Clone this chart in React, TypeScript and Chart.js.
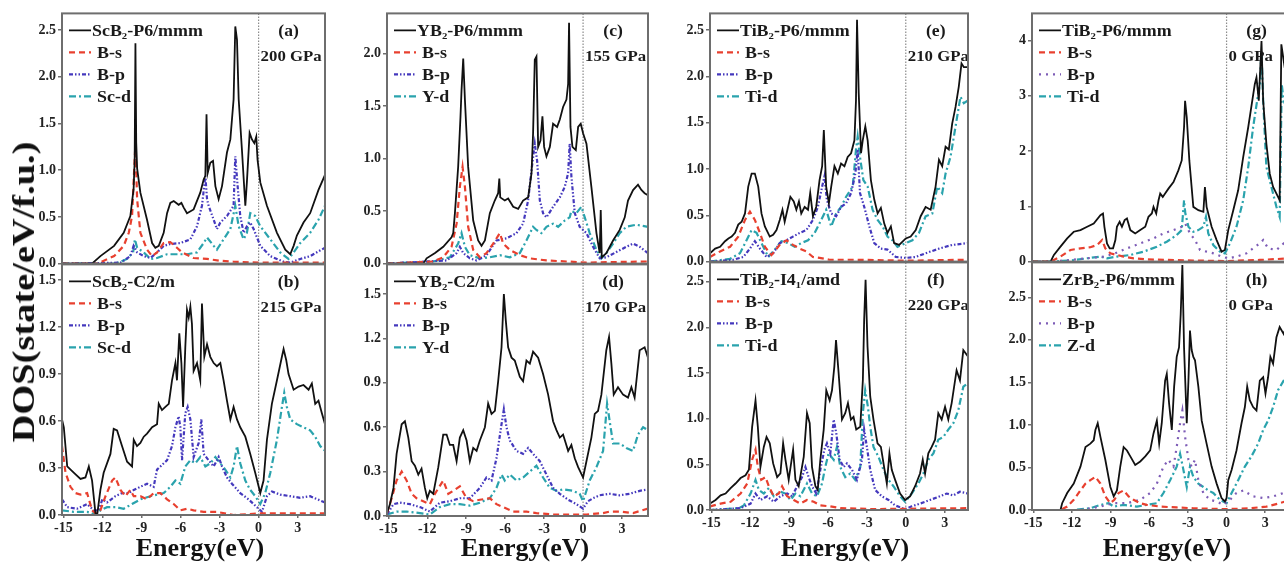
import React, { useEffect, useRef } from 'react';
import { Chart, registerables } from 'chart.js';
Chart.register(...registerables);

const FONT = '"Liberation Serif", "DejaVu Serif", "Times New Roman", serif';

type Pt = [number, number];

// ---------- x ticks / y ticks ----------
const xTicks = [-15, -12, -9, -6, -3, 0, 3];
const yTicks05 = [0, 0.5, 1, 1.5, 2, 2.5];
const yTicks03 = [0, 0.3, 0.6, 0.9, 1.2, 1.5];
const yTicksC = [0, 0.5, 1, 1.5, 2];
const yTicksG = [0, 1, 2, 3, 4];

// ---------- (a) ScB2-P6/mmm 200 GPa ----------
const aTot: Pt[] = [[-15.1,0],[-12.8,0],[-12.15,0.08],[-11.1,0.19],[-10.36,0.33],[-9.85,0.51],[-9.6,0.8],[-9.52,1.1],[-9.46,2.36],[-9.4,1.3],[-9.33,1.02],[-9.08,0.76],[-8.57,0.47],[-8.18,0.22],[-7.93,0.17],[-7.67,0.19],[-7.29,0.33],[-7.03,0.54],[-6.78,0.65],[-6.52,0.67],[-6.14,0.63],[-5.93,0.65],[-5.75,0.6],[-5.5,0.54],[-4.99,0.58],[-4.48,0.76],[-4.22,0.9],[-4.09,0.94],[-4.0,1.6],[-3.91,0.97],[-3.71,1.08],[-3.5,1.1],[-3.32,0.83],[-3.07,0.69],[-2.81,0.83],[-2.43,1.19],[-2.17,1.33],[-1.92,1.76],[-1.79,2.54],[-1.66,2.4],[-1.53,1.76],[-1.28,1.22],[-1.02,0.62],[-0.9,0.87],[-0.69,1.4],[-0.51,1.33],[-0.33,1.29],[-0.18,1.36],[-0.08,1.11],[0.13,0.87],[0.64,0.62],[1.41,0.33],[2.05,0.15],[2.43,0.1],[2.69,0.19],[2.94,0.3],[3.45,0.44],[3.96,0.54],[4.6,0.79],[5.1,0.95]];
const aBs: Pt[] = [[-15.1,0],[-12.4,0],[-11.1,0.08],[-10.36,0.19],[-9.97,0.33],[-9.72,0.51],[-9.6,0.87],[-9.46,1.29],[-9.33,0.69],[-9.08,0.33],[-8.57,0.15],[-8.18,0.08],[-7.8,0.12],[-7.29,0.22],[-6.78,0.23],[-6.27,0.17],[-5.88,0.12],[-4.99,0.06],[-3.96,0.05],[-2.94,0.03],[-1.92,0.02],[0,0.01],[5.1,0.01]];
const aBp: Pt[] = [[-15.1,0],[-10.6,0.01],[-9.85,0.08],[-9.6,0.19],[-9.33,0.12],[-8.82,0.08],[-8.31,0.06],[-7.8,0.12],[-7.29,0.19],[-6.78,0.21],[-6.0,0.22],[-5.24,0.26],[-4.73,0.4],[-4.35,0.62],[-4.09,0.94],[-3.96,0.69],[-3.84,0.62],[-3.45,0.47],[-3.2,0.37],[-2.94,0.44],[-2.43,0.51],[-1.92,0.62],[-1.79,1.15],[-1.61,0.83],[-1.41,0.51],[-1.15,0.33],[-0.9,0.4],[-0.64,0.44],[-0.38,0.37],[0.13,0.19],[0.9,0.08],[1.92,0.02],[2.43,0.01],[3.2,0.05],[3.96,0.08],[5.1,0.17]];
const aD: Pt[] = [[-15.1,0],[-11,0],[-10.1,0.05],[-9.64,0.12],[-9.5,0.26],[-9.33,0.17],[-8.82,0.12],[-8.31,0.05],[-7.8,0.06],[-7.03,0.1],[-5.5,0.1],[-4.73,0.12],[-4.22,0.22],[-3.96,0.28],[-3.45,0.19],[-3.2,0.15],[-2.69,0.26],[-2.17,0.37],[-1.79,0.62],[-1.53,0.4],[-1.15,0.26],[-0.9,0.33],[-0.64,0.54],[-0.26,0.51],[0.13,0.4],[0.9,0.26],[1.66,0.12],[2.3,0.05],[2.69,0.12],[3.2,0.22],[3.96,0.33],[4.6,0.47],[5.1,0.62]];

// ---------- (b) ScB2-C2/m 215 GPa ----------
const bTot: Pt[] = [[-15.1,0.61],[-14.96,0.56],[-14.7,0.31],[-14.2,0.27],[-13.68,0.23],[-13.3,0.24],[-13.04,0.31],[-12.79,0.22],[-12.53,0.01],[-12.4,0],[-12.15,0.16],[-11.9,0.27],[-11.38,0.39],[-11.13,0.55],[-10.87,0.54],[-10.49,0.44],[-10.1,0.34],[-9.72,0.31],[-9.59,0.48],[-9.34,0.44],[-9.08,0.46],[-8.82,0.5],[-8.57,0.52],[-8.18,0.56],[-7.8,0.58],[-7.67,0.71],[-7.42,0.67],[-7.16,0.69],[-6.9,0.71],[-6.65,0.86],[-6.39,0.97],[-6.27,0.86],[-6.09,1.16],[-5.93,0.97],[-5.8,0.69],[-5.63,1.07],[-5.5,1.31],[-5.37,1.26],[-5.24,1.33],[-5.12,1.22],[-4.99,0.92],[-4.73,0.97],[-4.48,0.86],[-4.35,1.35],[-4.17,1.01],[-3.96,1.09],[-3.71,1.01],[-3.45,0.97],[-3.2,0.95],[-2.94,0.97],[-2.69,0.86],[-2.43,0.73],[-2.17,0.61],[-1.92,0.69],[-1.66,0.61],[-1.41,0.56],[-1.02,0.5],[-0.64,0.39],[-0.26,0.27],[0.13,0.14],[0.38,0.22],[0.64,0.48],[1.02,0.71],[1.41,0.86],[1.79,1.01],[1.92,1.06],[2.12,0.99],[2.3,0.9],[2.69,0.8],[3.07,0.82],[3.45,0.83],[3.84,0.8],[4.09,0.84],[4.35,0.71],[4.6,0.73],[4.86,0.65],[5.1,0.58]];
const bBs: Pt[] = [[-15.1,0.44],[-14.83,0.27],[-14.45,0.18],[-14.07,0.14],[-13.68,0.13],[-13.17,0.14],[-12.79,0.03],[-12.53,0.01],[-12.15,0.03],[-11.76,0.12],[-11.25,0.22],[-11.0,0.24],[-10.61,0.16],[-10.23,0.12],[-9.85,0.16],[-9.59,0.12],[-9.08,0.12],[-8.57,0.1],[-8.06,0.14],[-7.54,0.14],[-7.03,0.1],[-6.52,0.07],[-6.01,0.03],[-5.5,0.04],[-4.99,0.03],[-4.22,0.02],[-3.2,0.02],[-1.92,0.0],[0.13,0.01],[5.1,0.01]];
const bBp: Pt[] = [[-15.1,0.1],[-14.7,0.05],[-13.94,0.04],[-13.17,0.07],[-12.66,0.03],[-12.28,0.03],[-12.0,0.1],[-11.64,0.08],[-11.0,0.12],[-10.49,0.14],[-9.97,0.14],[-9.59,0.16],[-9.08,0.18],[-8.57,0.2],[-8.06,0.18],[-7.8,0.29],[-7.54,0.31],[-7.03,0.35],[-6.65,0.44],[-6.39,0.56],[-6.14,0.63],[-6.01,0.56],[-5.88,0.35],[-5.63,0.65],[-5.45,0.69],[-5.24,0.61],[-4.99,0.37],[-4.6,0.46],[-4.4,0.61],[-4.22,0.39],[-3.84,0.35],[-3.45,0.31],[-3.07,0.37],[-2.81,0.31],[-2.43,0.24],[-2.05,0.2],[-1.41,0.14],[-0.77,0.1],[-0.13,0.05],[0.26,0.02],[0.64,0.12],[1.02,0.15],[1.66,0.13],[2.43,0.12],[3.2,0.11],[3.96,0.12],[5.1,0.08]];
const bD: Pt[] = [[-15.1,0.03],[-14.2,0.02],[-13.17,0.02],[-12.4,0],[-12.15,0.03],[-11.64,0.05],[-11.0,0.05],[-10.36,0.04],[-9.72,0.07],[-9.08,0.1],[-8.31,0.12],[-7.8,0.13],[-7.29,0.14],[-6.78,0.18],[-6.39,0.22],[-6.01,0.2],[-5.63,0.31],[-5.24,0.35],[-4.86,0.33],[-4.48,0.37],[-4.09,0.31],[-3.71,0.33],[-3.32,0.37],[-2.94,0.33],[-2.56,0.29],[-2.17,0.24],[-1.92,0.31],[-1.66,0.44],[-1.41,0.33],[-1.02,0.22],[-0.64,0.16],[-0.26,0.12],[0.13,0.07],[0.51,0.14],[0.9,0.27],[1.41,0.48],[1.79,0.69],[1.97,0.78],[2.17,0.69],[2.43,0.61],[2.94,0.58],[3.45,0.56],[3.96,0.54],[4.35,0.5],[4.73,0.44],[5.1,0.41]];

// ---------- (c) YB2-P6/mmm 155 GPa ----------
const cTot: Pt[] = [[-15.1,0],[-12.3,0],[-12.05,0.05],[-11.4,0.1],[-10.77,0.16],[-10.13,0.25],[-10.0,0.29],[-9.87,0.48],[-9.62,0.92],[-9.44,1.4],[-9.36,1.65],[-9.23,1.95],[-9.1,1.56],[-8.85,0.92],[-8.46,0.41],[-8.08,0.22],[-7.82,0.17],[-7.56,0.22],[-7.18,0.48],[-6.8,0.6],[-6.54,0.67],[-6.45,0.81],[-6.38,0.63],[-6.03,0.6],[-5.77,0.62],[-5.38,0.54],[-5.0,0.52],[-4.62,0.6],[-4.23,0.63],[-3.97,0.86],[-3.85,1.24],[-3.72,1.94],[-3.59,1.97],[-3.46,1.11],[-3.28,1.17],[-3.13,1.4],[-3.0,1.11],[-2.82,1.02],[-2.56,1.11],[-2.31,1.33],[-2.0,1.3],[-1.79,1.37],[-1.54,1.49],[-1.28,1.56],[-1.15,1.71],[-1.08,2.29],[-0.97,1.3],[-0.82,1.11],[-0.56,1.08],[-0.38,1.3],[-0.18,1.33],[0,1.24],[0.26,1.14],[0.64,0.73],[1.03,0.29],[1.28,0.1],[1.36,0.51],[1.44,0.06],[1.79,0.1],[2.31,0.22],[2.82,0.32],[3.21,0.44],[3.46,0.6],[3.85,0.7],[4.23,0.75],[4.49,0.7],[4.74,0.67],[5.0,0.65]];
const cBs: Pt[] = [[-15.1,0],[-11.54,0.02],[-10.77,0.06],[-10.13,0.16],[-9.74,0.38],[-9.49,0.73],[-9.28,0.92],[-9.1,0.73],[-8.85,0.35],[-8.46,0.13],[-7.95,0.06],[-7.44,0.1],[-6.92,0.19],[-6.41,0.29],[-6.15,0.19],[-5.64,0.13],[-4.87,0.08],[-4.1,0.05],[-2.82,0.03],[-1.28,0.02],[0.26,0.01],[5.0,0.02]];
const cBp: Pt[] = [[-15.1,0],[-10.5,0.03],[-9.74,0.1],[-9.49,0.16],[-9.23,0.1],[-8.72,0.05],[-8.2,0.03],[-7.44,0.08],[-6.67,0.22],[-5.9,0.24],[-5.13,0.29],[-4.62,0.38],[-4.23,0.6],[-3.97,0.89],[-3.72,1.14],[-3.54,0.98],[-3.33,0.6],[-3.08,0.48],[-2.82,0.44],[-2.31,0.54],[-1.79,0.63],[-1.41,0.73],[-1.15,0.86],[-1.03,1.14],[-0.9,0.83],[-0.64,0.48],[-0.26,0.35],[0.26,0.29],[0.77,0.16],[1.28,0.05],[1.79,0.06],[2.56,0.11],[3.33,0.16],[3.85,0.19],[4.36,0.16],[5.0,0.1]];
const cD: Pt[] = [[-15.1,0],[-11.54,0.02],[-10.26,0.06],[-9.62,0.19],[-9.36,0.29],[-9.1,0.16],[-8.72,0.08],[-7.95,0.05],[-7.18,0.06],[-6.41,0.08],[-5.64,0.06],[-4.87,0.1],[-4.36,0.22],[-3.85,0.35],[-3.59,0.32],[-3.21,0.29],[-2.82,0.35],[-2.31,0.38],[-1.92,0.35],[-1.41,0.41],[-1.03,0.44],[-0.9,0.5],[-0.51,0.48],[-0.13,0.54],[0.13,0.44],[0.51,0.29],[1.03,0.13],[1.41,0.05],[1.79,0.1],[2.31,0.19],[2.82,0.29],[3.33,0.35],[4.1,0.37],[5.0,0.35]];

// ---------- (d) YB2-C2/m 170 GPa ----------
const dTot: Pt[] = [[-15.1,0.02],[-14.87,0.08],[-14.6,0.19],[-14.36,0.42],[-13.97,0.62],[-13.72,0.64],[-13.46,0.53],[-13.2,0.37],[-12.95,0.34],[-12.69,0.28],[-12.44,0.32],[-12.18,0.19],[-12.0,0.12],[-11.8,0.17],[-11.54,0.15],[-11.15,0.33],[-10.77,0.55],[-10.51,0.55],[-10.26,0.48],[-10.0,0.48],[-9.74,0.37],[-9.49,0.53],[-9.23,0.58],[-8.97,0.51],[-8.72,0.37],[-8.46,0.46],[-8.2,0.44],[-7.95,0.51],[-7.56,0.6],[-7.31,0.76],[-7.05,0.69],[-6.79,0.71],[-6.54,0.91],[-6.28,1.14],[-6.1,1.5],[-5.95,1.32],[-5.77,1.14],[-5.51,1.07],[-5.26,1.05],[-4.87,0.94],[-4.62,0.91],[-4.36,1.05],[-4.1,1.03],[-3.85,1.11],[-3.46,1.07],[-3.08,0.96],[-2.69,0.82],[-2.31,0.64],[-2.05,0.58],[-1.79,0.53],[-1.54,0.55],[-1.15,0.44],[-0.9,0.48],[-0.64,0.39],[-0.38,0.33],[0,0.26],[0.26,0.37],[0.64,0.53],[0.9,0.69],[1.15,0.71],[1.41,0.82],[1.79,1.12],[2.0,1.21],[2.18,1.03],[2.36,0.82],[2.69,0.87],[3.08,0.82],[3.46,0.8],[3.72,0.87],[3.97,0.8],[4.36,1.12],[4.74,1.14],[5.0,1.07]];
const dBs: Pt[] = [[-15.1,0.02],[-14.74,0.12],[-14.36,0.24],[-13.97,0.3],[-13.59,0.24],[-13.2,0.15],[-12.82,0.12],[-12.31,0.1],[-11.8,0.08],[-11.41,0.15],[-10.77,0.24],[-10.38,0.15],[-10.0,0.17],[-9.49,0.2],[-8.97,0.12],[-8.46,0.1],[-7.95,0.11],[-7.18,0.12],[-6.67,0.08],[-6.15,0.06],[-5.38,0.03],[-4.36,0.03],[-3.59,0.02],[-2.31,0.01],[0.26,0.01],[1.54,0.02],[2.05,0.03],[2.82,0.03],[3.85,0.02],[5.0,0.05]];
const dBp: Pt[] = [[-15.1,0.01],[-14.6,0.08],[-14.1,0.09],[-13.33,0.08],[-12.56,0.06],[-11.8,0.03],[-11.03,0.09],[-10.26,0.1],[-9.49,0.12],[-8.72,0.12],[-7.95,0.19],[-7.44,0.26],[-7.05,0.24],[-6.67,0.39],[-6.28,0.62],[-6.1,0.72],[-5.9,0.6],[-5.64,0.51],[-5.13,0.44],[-4.62,0.42],[-4.23,0.46],[-3.85,0.42],[-3.33,0.37],[-2.82,0.28],[-2.31,0.19],[-1.79,0.15],[-1.15,0.11],[-0.51,0.08],[0,0.05],[0.38,0.1],[0.77,0.12],[1.28,0.14],[2.05,0.15],[2.82,0.14],[3.59,0.15],[4.36,0.17],[5.0,0.18]];
const dD: Pt[] = [[-15.1,0.01],[-14.36,0.03],[-13.59,0.03],[-12.56,0.02],[-11.8,0.01],[-11.03,0.06],[-10.26,0.08],[-9.49,0.08],[-8.72,0.07],[-7.95,0.09],[-7.18,0.12],[-6.67,0.19],[-6.28,0.28],[-6.03,0.24],[-5.64,0.28],[-5.13,0.24],[-4.62,0.26],[-4.1,0.3],[-3.59,0.34],[-3.08,0.26],[-2.56,0.19],[-2.05,0.17],[-1.54,0.18],[-0.77,0.17],[-0.26,0.15],[0,0.1],[0.51,0.24],[1.03,0.33],[1.54,0.44],[1.85,0.76],[2.05,0.64],[2.31,0.49],[2.82,0.49],[3.33,0.46],[3.85,0.44],[4.23,0.55],[4.62,0.6],[5.0,0.58]];

// ---------- (e) TiB2-P6/mmm 210 GPa ----------
const eTot: Pt[] = [[-15.1,0.09],[-14.7,0.14],[-14.32,0.16],[-13.94,0.22],[-13.68,0.25],[-13.43,0.27],[-13.17,0.31],[-12.92,0.4],[-12.66,0.43],[-12.4,0.52],[-12.15,0.81],[-11.89,0.95],[-11.64,0.95],[-11.38,0.81],[-11.13,0.52],[-10.87,0.38],[-10.49,0.27],[-10.23,0.29],[-9.97,0.34],[-9.72,0.45],[-9.51,0.56],[-9.34,0.43],[-9.08,0.59],[-8.9,0.7],[-8.64,0.65],[-8.44,0.56],[-8.24,0.65],[-8.06,0.52],[-7.8,0.59],[-7.54,0.56],[-7.37,0.74],[-7.16,0.49],[-6.91,0.59],[-6.65,0.88],[-6.45,1.03],[-6.32,1.42],[-6.14,0.81],[-5.93,0.63],[-5.75,0.81],[-5.5,1.03],[-5.24,0.95],[-4.99,1.06],[-4.73,1.03],[-4.48,1.13],[-4.22,1.17],[-3.96,1.31],[-3.84,1.74],[-3.76,2.61],[-3.63,1.82],[-3.45,1.17],[-3.32,1.31],[-3.12,1.46],[-2.94,1.31],[-2.69,0.88],[-2.43,0.67],[-2.17,0.52],[-1.92,0.58],[-1.66,0.41],[-1.41,0.31],[-1.15,0.38],[-0.9,0.2],[-0.51,0.18],[0,0.25],[0.38,0.27],[0.77,0.34],[1.15,0.49],[1.53,0.59],[1.92,0.56],[2.3,0.81],[2.56,1.1],[2.81,1.03],[3.07,1.24],[3.32,1.21],[3.58,1.49],[3.84,1.67],[4.09,1.89],[4.3,2.14],[4.48,2.1],[4.8,2.1]];
const eBs: Pt[] = [[-15.1,0.05],[-14.32,0.11],[-13.55,0.16],[-12.92,0.27],[-12.4,0.45],[-12.02,0.54],[-11.64,0.45],[-11.25,0.31],[-10.87,0.16],[-10.36,0.07],[-9.72,0.18],[-9.21,0.23],[-8.7,0.18],[-8.18,0.14],[-7.67,0.11],[-7.16,0.05],[-6.65,0.04],[-5.88,0.02],[-3.84,0.02],[0,0.01],[4.8,0.02]];
const eBp: Pt[] = [[-15.1,0],[-13.3,0.02],[-12.53,0.05],[-12.02,0.14],[-11.64,0.22],[-11.25,0.14],[-10.74,0.05],[-10.23,0.09],[-9.72,0.2],[-9.21,0.23],[-8.7,0.27],[-8.18,0.31],[-7.67,0.34],[-7.16,0.45],[-6.78,0.59],[-6.45,0.81],[-6.27,0.92],[-6.09,0.67],[-5.75,0.52],[-5.37,0.49],[-4.99,0.59],[-4.6,0.63],[-4.22,0.74],[-3.89,0.95],[-3.71,1.21],[-3.53,0.74],[-3.2,0.59],[-2.81,0.38],[-2.43,0.2],[-1.92,0.14],[-1.41,0.13],[-0.77,0.05],[0,0.04],[0.77,0.05],[1.53,0.09],[2.56,0.14],[3.58,0.18],[4.8,0.2]];
const eD: Pt[] = [[-15.1,0],[-13.55,0.03],[-12.79,0.09],[-12.28,0.23],[-11.89,0.34],[-11.51,0.31],[-11.13,0.2],[-10.61,0.05],[-10.1,0.13],[-9.59,0.22],[-9.08,0.2],[-8.57,0.16],[-8.06,0.2],[-7.54,0.23],[-7.03,0.31],[-6.52,0.45],[-6.14,0.56],[-5.75,0.38],[-5.37,0.52],[-4.99,0.59],[-4.6,0.7],[-4.09,0.81],[-3.84,1.21],[-3.71,1.35],[-3.53,1.13],[-3.27,0.88],[-2.94,0.81],[-2.56,0.56],[-2.17,0.45],[-1.79,0.38],[-1.41,0.27],[-1.02,0.23],[-0.64,0.16],[0,0.2],[0.51,0.23],[1.02,0.31],[1.53,0.49],[2.05,0.52],[2.43,0.81],[2.81,0.74],[3.07,0.95],[3.45,1.13],[3.84,1.46],[4.22,1.78],[4.48,1.71],[4.8,1.74]];

// ---------- (f) TiB2-I41/amd 220 GPa ----------
const fTot: Pt[] = [[-15.1,0.07],[-14.67,0.11],[-14.28,0.16],[-13.9,0.18],[-13.51,0.24],[-13.13,0.29],[-12.74,0.35],[-12.36,0.38],[-12.1,0.44],[-11.85,0.91],[-11.59,1.2],[-11.41,0.91],[-11.21,0.47],[-10.95,0.69],[-10.74,0.8],[-10.49,0.73],[-10.23,0.51],[-9.92,0.36],[-9.67,0.4],[-9.46,0.73],[-9.28,0.55],[-9.03,0.33],[-8.69,0.66],[-8.51,0.33],[-8.26,0.26],[-7.87,0.58],[-7.62,1.06],[-7.41,0.95],[-7.23,0.47],[-6.97,0.26],[-6.79,0.22],[-6.59,0.55],[-6.33,0.88],[-6.13,1.31],[-5.87,1.2],[-5.69,1.31],[-5.51,1.57],[-5.38,1.86],[-5.18,1.5],[-4.92,0.99],[-4.67,1.06],[-4.46,1.17],[-4.23,0.99],[-4.03,1.02],[-3.82,0.88],[-3.51,0.91],[-3.31,1.42],[-3.21,2.08],[-3.1,2.52],[-2.95,1.79],[-2.74,1.24],[-2.49,0.99],[-2.18,0.73],[-1.92,0.69],[-1.67,0.47],[-1.46,0.29],[-1.26,0.62],[-1.08,0.44],[-0.82,0.33],[-0.44,0.18],[-0.05,0.11],[0.33,0.15],[0.72,0.26],[1.1,0.4],[1.31,0.55],[1.49,0.4],[1.74,0.62],[2.0,0.69],[2.26,0.77],[2.51,1.06],[2.77,0.99],[3.03,1.13],[3.28,0.99],[3.54,1.17],[3.92,1.53],[4.18,1.42],[4.44,1.75],[4.8,1.68]];
const fBs: Pt[] = [[-15.1,0.04],[-14.28,0.07],[-13.51,0.09],[-12.74,0.18],[-12.23,0.29],[-11.85,0.55],[-11.59,0.66],[-11.41,0.47],[-11.15,0.33],[-10.82,0.36],[-10.56,0.26],[-10.18,0.15],[-9.79,0.18],[-9.54,0.26],[-9.15,0.15],[-8.64,0.11],[-8.13,0.07],[-7.62,0.11],[-7.1,0.09],[-6.59,0.05],[-5.82,0.04],[-5.05,0.02],[-2.49,0.01],[4.8,0.02]];
const fBp: Pt[] = [[-15.1,0],[-12.74,0.02],[-11.97,0.07],[-11.59,0.18],[-11.21,0.11],[-10.69,0.15],[-10.18,0.09],[-9.67,0.15],[-9.15,0.18],[-8.77,0.15],[-8.38,0.26],[-8.0,0.36],[-7.74,0.47],[-7.49,0.36],[-7.23,0.26],[-6.9,0.18],[-6.59,0.44],[-6.28,0.66],[-6.08,0.73],[-5.82,0.62],[-5.56,0.99],[-5.36,0.84],[-5.1,0.55],[-4.79,0.47],[-4.54,0.51],[-4.15,0.44],[-3.77,0.33],[-3.38,0.55],[-3.21,0.88],[-3.0,0.69],[-2.74,0.44],[-2.36,0.22],[-1.85,0.15],[-1.33,0.11],[-0.82,0.05],[-0.05,0.01],[0.46,0.04],[1.1,0.07],[1.87,0.11],[2.64,0.15],[3.15,0.18],[3.67,0.16],[4.18,0.2],[4.8,0.18]];
const fD: Pt[] = [[-15.1,0],[-12.87,0.02],[-12.49,0.05],[-11.97,0.18],[-11.59,0.33],[-11.33,0.22],[-10.95,0.18],[-10.56,0.24],[-10.18,0.15],[-9.67,0.2],[-9.28,0.18],[-8.9,0.11],[-8.51,0.18],[-8.13,0.15],[-7.62,0.29],[-7.23,0.18],[-6.85,0.15],[-6.46,0.29],[-6.21,0.47],[-5.95,0.62],[-5.56,0.55],[-5.31,0.69],[-5.05,0.47],[-4.67,0.36],[-4.28,0.4],[-3.9,0.33],[-3.51,0.47],[-3.31,1.06],[-3.13,1.31],[-2.92,1.13],[-2.74,0.91],[-2.49,0.69],[-2.1,0.58],[-1.72,0.44],[-1.33,0.33],[-0.95,0.26],[-0.44,0.15],[-0.05,0.09],[0.46,0.18],[0.97,0.29],[1.36,0.4],[1.74,0.55],[2.13,0.62],[2.51,0.77],[2.9,0.8],[3.28,0.88],[3.67,0.95],[4.05,1.09],[4.44,1.35],[4.8,1.39]];

// ---------- (g) TiB2-P6/mmm 0 GPa ----------
const gTot: Pt[] = [[-15.1,0],[-13.66,0],[-13.4,0.12],[-12.89,0.27],[-12.37,0.42],[-11.86,0.54],[-11.34,0.57],[-10.82,0.63],[-10.31,0.69],[-9.79,0.84],[-9.59,0.87],[-9.48,0.63],[-9.28,0.33],[-9.07,0.24],[-8.81,0.24],[-8.63,0.39],[-8.51,0.63],[-8.3,0.72],[-8.12,0.63],[-7.91,0.75],[-7.73,0.78],[-7.47,0.57],[-7.09,0.51],[-6.7,0.57],[-6.31,0.63],[-6.06,0.81],[-5.8,0.87],[-5.67,0.99],[-5.46,0.87],[-5.28,1.11],[-5.15,1.23],[-4.95,1.17],[-4.77,1.23],[-4.51,1.32],[-4.12,1.44],[-3.74,1.65],[-3.48,1.83],[-3.3,2.43],[-3.22,2.91],[-3.09,2.61],[-2.89,1.83],[-2.58,0.99],[-2.19,0.93],[-1.8,0.9],[-1.68,1.35],[-1.55,0.99],[-1.16,0.63],[-0.77,0.39],[-0.39,0.18],[-0.13,0.21],[0.13,0.57],[0.52,0.93],[0.9,1.29],[1.29,1.89],[1.68,2.43],[2.19,3.21],[2.32,3.33],[2.5,2.91],[2.71,3.99],[2.84,2.91],[3.09,2.13],[3.35,1.59],[3.61,1.35],[3.87,1.23],[4.12,1.11],[4.25,3.93],[4.51,3.51],[5.0,3.2]];
const gBs: Pt[] = [[-15.1,0],[-13.66,0],[-12.89,0.09],[-12.11,0.21],[-11.34,0.24],[-10.57,0.26],[-10.05,0.3],[-9.66,0.39],[-9.41,0.24],[-9.02,0.15],[-8.51,0.12],[-7.99,0.09],[-7.22,0.06],[-6.19,0.04],[-4.64,0.03],[-2.58,0.02],[0,0.01],[2.58,0.03],[5.0,0.06]];
const gBp: Pt[] = [[-15.1,0],[-13.66,0],[-12.11,0.03],[-10.82,0.06],[-9.54,0.09],[-8.76,0.14],[-7.73,0.24],[-6.7,0.33],[-5.67,0.42],[-4.9,0.51],[-4.12,0.57],[-3.48,0.63],[-3.22,0.69],[-2.84,0.51],[-2.45,0.39],[-2.06,0.21],[-1.55,0.18],[-1.03,0.15],[-0.39,0.09],[0.13,0.06],[0.77,0.09],[1.55,0.15],[2.06,0.24],[2.58,0.33],[2.84,0.39],[3.22,0.24],[3.87,0.21],[4.43,0.33],[5.0,0.3]];
const gD: Pt[] = [[-15.1,0],[-13.66,0],[-12.11,0.02],[-10.82,0.06],[-9.79,0.09],[-9.28,0.06],[-8.51,0.09],[-7.47,0.12],[-6.44,0.18],[-5.41,0.27],[-4.64,0.36],[-3.87,0.48],[-3.48,0.57],[-3.3,1.11],[-3.2,0.87],[-2.96,0.63],[-2.58,0.54],[-2.19,0.57],[-1.8,0.63],[-1.6,0.81],[-1.42,0.51],[-1.03,0.3],[-0.52,0.18],[-0.13,0.15],[0.26,0.33],[0.77,0.63],[1.29,1.11],[1.68,1.71],[2.06,2.43],[2.37,2.91],[2.58,3.21],[2.71,3.81],[2.84,2.91],[3.09,1.71],[3.48,1.35],[3.87,0.99],[4.12,0.81],[4.28,3.21],[4.43,2.91],[5.0,2.6]];

// ---------- (h) ZrB2-P6/mmm 0 GPa ----------
const hTot: Pt[] = [[-15.1,0],[-12.89,0],[-12.76,0.08],[-12.37,0.2],[-11.86,0.31],[-11.34,0.51],[-10.95,0.74],[-10.57,0.78],[-10.31,0.82],[-10.18,0.94],[-10.0,1.02],[-9.79,0.86],[-9.41,0.59],[-9.02,0.27],[-8.76,0.16],[-8.51,0.23],[-8.25,0.51],[-7.99,0.74],[-7.73,0.7],[-7.47,0.63],[-7.09,0.53],[-6.7,0.57],[-6.31,0.63],[-5.93,0.7],[-5.67,0.9],[-5.41,1.05],[-5.23,0.78],[-5.03,1.02],[-4.77,1.52],[-4.64,1.6],[-4.46,1.25],[-4.25,0.94],[-4.07,1.45],[-3.87,1.8],[-3.69,1.91],[-3.56,2.3],[-3.43,2.88],[-3.3,1.91],[-3.09,1.02],[-2.96,1.52],[-2.84,2.11],[-2.71,1.88],[-2.58,1.8],[-2.45,1.76],[-2.19,1.45],[-1.93,1.05],[-1.55,0.78],[-1.16,0.51],[-0.77,0.31],[-0.39,0.14],[-0.13,0.1],[0,0.14],[0.13,0.35],[0.39,0.47],[0.77,0.7],[1.16,1.02],[1.42,1.21],[1.6,1.45],[1.8,1.29],[2.06,1.21],[2.32,1.17],[2.58,1.52],[2.84,1.56],[3.02,1.37],[3.22,1.56],[3.4,1.8],[3.61,1.72],[3.87,2.03],[4.12,2.15],[4.43,2.07],[5.0,2.3]];
const hBs: Pt[] = [[-15.1,0],[-12.89,0],[-12.37,0.04],[-11.86,0.12],[-11.34,0.23],[-10.95,0.31],[-10.57,0.35],[-10.18,0.39],[-9.79,0.31],[-9.41,0.16],[-9.02,0.08],[-8.71,0.12],[-8.38,0.2],[-7.99,0.23],[-7.6,0.16],[-7.22,0.12],[-6.7,0.08],[-6.19,0.06],[-5.15,0.04],[-3.87,0.03],[-2.58,0.02],[0,0.01],[1.8,0.02],[3.09,0.04],[4.12,0.08],[5.0,0.12]];
const hBp: Pt[] = [[-15.1,0],[-11.34,0],[-9.79,0.04],[-8.76,0.08],[-7.73,0.08],[-6.7,0.12],[-5.93,0.2],[-5.41,0.31],[-4.9,0.51],[-4.51,0.59],[-4.12,0.51],[-3.87,0.74],[-3.61,1.02],[-3.43,1.17],[-3.22,0.86],[-2.96,0.59],[-2.71,0.51],[-2.45,0.59],[-2.19,0.35],[-1.8,0.2],[-1.29,0.12],[-0.77,0.1],[-0.26,0.06],[0.26,0.12],[0.77,0.2],[1.29,0.23],[2.06,0.16],[2.84,0.14],[3.61,0.16],[4.43,0.2],[5.0,0.2]];
const hD: Pt[] = [[-15.1,0],[-11.86,0],[-10.57,0.02],[-9.79,0.06],[-9.15,0.08],[-8.76,0.04],[-7.99,0.06],[-6.96,0.04],[-6.19,0.06],[-5.41,0.08],[-4.9,0.2],[-4.38,0.35],[-3.87,0.51],[-3.61,0.66],[-3.4,0.51],[-3.09,0.27],[-2.84,0.51],[-2.58,0.39],[-2.19,0.31],[-1.8,0.27],[-1.42,0.23],[-1.03,0.2],[-0.52,0.12],[0,0.08],[0.39,0.2],[0.9,0.35],[1.42,0.51],[1.93,0.63],[2.45,0.78],[2.84,0.94],[3.22,1.05],[3.61,1.21],[4.0,1.41],[4.43,1.52],[5.0,1.65]];

// ---------- panel configuration ----------
interface Panel {
  id: string; name: string; dName: string; tag: string; pressure: string;
  tot: Pt[]; bs: Pt[]; bp: Pt[]; d: Pt[];
  left: number; right: number; top: number; bottom: number;
  xMin: number; xMax: number; yMax: number; yTicks: number[]; yDec: number;
  showX: boolean; sparseBp: boolean;
}

const panels: Panel[] = [
  { id: 'a', name: 'ScB₂-P6/mmm', dName: 'Sc-d', tag: '(a)', pressure: '200 GPa', tot: aTot, bs: aBs, bp: aBp, d: aD, left: 62, right: 325, top: 13, bottom: 264, xMin: -15.1, xMax: 5.1, yMax: 2.68, yTicks: yTicks05, yDec: 1, showX: false, sparseBp: false },
  { id: 'b', name: 'ScB₂-C2/m', dName: 'Sc-d', tag: '(b)', pressure: '215 GPa', tot: bTot, bs: bBs, bp: bBp, d: bD, left: 62, right: 325, top: 264, bottom: 515, xMin: -15.1, xMax: 5.1, yMax: 1.6, yTicks: yTicks03, yDec: 1, showX: true, sparseBp: false },
  { id: 'c', name: 'YB₂-P6/mmm', dName: 'Y-d', tag: '(c)', pressure: '155 GPa', tot: cTot, bs: cBs, bp: cBp, d: cD, left: 387, right: 648, top: 13, bottom: 263.5, xMin: -15.1, xMax: 5.0, yMax: 2.38, yTicks: yTicksC, yDec: 1, showX: false, sparseBp: false },
  { id: 'd', name: 'YB₂-C2/m', dName: 'Y-d', tag: '(d)', pressure: '170 GPa', tot: dTot, bs: dBs, bp: dBp, d: dD, left: 387, right: 648, top: 263.5, bottom: 515, xMin: -15.1, xMax: 5.0, yMax: 1.7, yTicks: yTicks03, yDec: 1, showX: true, sparseBp: false },
  { id: 'e', name: 'TiB₂-P6/mmm', dName: 'Ti-d', tag: '(e)', pressure: '210 GPa', tot: eTot, bs: eBs, bp: eBp, d: eD, left: 710, right: 968, top: 13, bottom: 262, xMin: -15.1, xMax: 4.8, yMax: 2.68, yTicks: yTicks05, yDec: 1, showX: false, sparseBp: false },
  { id: 'f', name: 'TiB₂-I4₁/amd', dName: 'Ti-d', tag: '(f)', pressure: '220 GPa', tot: fTot, bs: fBs, bp: fBp, d: fD, left: 710, right: 968, top: 262, bottom: 510, xMin: -15.1, xMax: 4.8, yMax: 2.71, yTicks: yTicks05, yDec: 1, showX: true, sparseBp: false },
  { id: 'g', name: 'TiB₂-P6/mmm', dName: 'Ti-d', tag: '(g)', pressure: '0 GPa', tot: gTot, bs: gBs, bp: gBp, d: gD, left: 1032, right: 1291, top: 13, bottom: 262, xMin: -15.1, xMax: 5.0, yMax: 4.49, yTicks: yTicksG, yDec: 0, showX: false, sparseBp: true },
  { id: 'h', name: 'ZrB₂-P6/mmm', dName: 'Z-d', tag: '(h)', pressure: '0 GPa', tot: hTot, bs: hBs, bp: hBp, d: hD, left: 1032, right: 1291, top: 262, bottom: 510, xMin: -15.1, xMax: 5.0, yMax: 2.91, yTicks: yTicks05, yDec: 1, showX: true, sparseBp: true },
];

const energyLabelX = [200, 525, 845, 1167];

const YW = 44;
const PR = 6;
const PT = 10;

function toXY(pts: Pt[]) {
  return pts.map(([x, y]) => ({ x, y }));
}

function makeDeco(p: Panel) {
  return {
    id: 'deco' + p.id,
    beforeDatasetsDraw(chart: any) {
      const { ctx, chartArea: a } = chart;
      const x0 = chart.scales.x.getPixelForValue(0);
      ctx.save();
      ctx.strokeStyle = '#8c8c8c';
      ctx.lineWidth = 1.2;
      ctx.setLineDash([1.5, 1.5]);
      ctx.beginPath();
      ctx.moveTo(x0, a.top);
      ctx.lineTo(x0, a.bottom);
      ctx.stroke();
      ctx.restore();
    },
    afterDatasetsDraw(chart: any) {
      const { ctx, chartArea: a } = chart;
      const x0 = chart.scales.x.getPixelForValue(0);
      ctx.save();
      ctx.beginPath();
      ctx.rect(a.left, a.top, a.right - a.left, a.bottom - a.top);
      ctx.clip();
      // legend
      chart.data.datasets.forEach((ds: any, i: number) => {
        const y = a.top + 17 + i * 22;
        ctx.save();
        ctx.beginPath();
        ctx.setLineDash(ds.borderDash || []);
        ctx.strokeStyle = ds.borderColor;
        ctx.lineWidth = ds.borderWidth;
        ctx.moveTo(a.left + 7, y);
        ctx.lineTo(a.left + 29, y);
        ctx.stroke();
        ctx.restore();
        ctx.save();
        ctx.fillStyle = '#1a1a1a';
        ctx.font = `bold 16px ${FONT}`;
        ctx.textBaseline = 'middle';
        ctx.textAlign = 'left';
        ctx.translate(a.left + (i === 0 ? 30 : 35), y + 1);
        ctx.scale(1.12, 1);
        ctx.fillText(ds.label, 0, 0);
        ctx.restore();
      });
      // tag and pressure
      ctx.fillStyle = '#1a1a1a';
      ctx.textBaseline = 'middle';
      ctx.save();
      ctx.font = `bold 16px ${FONT}`;
      ctx.textAlign = 'center';
      ctx.translate(x0 + 30, a.top + 18);
      ctx.scale(1.1, 1);
      ctx.fillText(p.tag, 0, 0);
      ctx.restore();
      ctx.save();
      ctx.font = `bold 15px ${FONT}`;
      ctx.textAlign = 'left';
      ctx.translate(x0 + 2, a.top + 44);
      ctx.scale(1.12, 1);
      ctx.fillText(p.pressure, 0, 0);
      ctx.restore();
      ctx.restore();
      // frame
      ctx.save();
      ctx.strokeStyle = '#6e6e6e';
      ctx.lineWidth = 2;
      ctx.strokeRect(a.left, a.top, a.right - a.left, a.bottom - a.top);
      ctx.restore();
    },
  };
}

function PanelChart({ p }: { p: Panel }) {
  const ref = useRef<HTMLCanvasElement>(null);
  const PB = p.showX ? 0 : 10;
  const XH = p.showX ? 30 : 0;
  const w = YW + (p.right - p.left) + PR;
  const h = Math.round(PT + (p.bottom - p.top) + PB + XH);
  useEffect(() => {
    const tickFont = { family: FONT, size: 14, weight: 'bold' as const };
    const bpColor = p.sparseBp ? '#7d5cb6' : '#4438bd';
    const chart = new Chart(ref.current as HTMLCanvasElement, {
      type: 'line',
      data: {
        datasets: [
          { label: p.name, data: toXY(p.tot), borderColor: '#111111', borderWidth: 1.8, borderDash: [] },
          { label: 'B-s', data: toXY(p.bs), borderColor: '#e8402f', borderWidth: 2.2, borderDash: [6, 4] },
          { label: 'B-p', data: toXY(p.bp), borderColor: bpColor, borderWidth: 2.2, borderDash: p.sparseBp ? [2, 5] : [4, 2, 1.5, 2, 1.5, 2] },
          { label: p.dName, data: toXY(p.d), borderColor: '#2aa3ad', borderWidth: 2.2, borderDash: [7, 3, 2, 3] },
        ] as any,
      },
      options: {
        animation: false,
        responsive: false,
        events: [],
        layout: { padding: { top: PT, right: PR, bottom: PB, left: 0 } },
        elements: { point: { radius: 0 }, line: { tension: 0 } },
        plugins: { legend: { display: false }, tooltip: { enabled: false }, title: { display: false } },
        scales: {
          x: {
            type: 'linear',
            min: p.xMin,
            max: p.xMax,
            display: p.showX,
            afterBuildTicks: (ax: any) => { ax.ticks = xTicks.map((v) => ({ value: v })); },
            afterFit: (ax: any) => { ax.height = XH; },
            grid: { drawOnChartArea: false, drawTicks: true, tickLength: 3, color: '#6e6e6e', lineWidth: 1.5 },
            border: { display: false },
            ticks: { color: '#222', font: tickFont, padding: 2, maxRotation: 0, autoSkip: false, callback: (v: any) => String(v) },
          },
          y: {
            type: 'linear',
            min: 0,
            max: p.yMax,
            afterBuildTicks: (ax: any) => { ax.ticks = p.yTicks.map((v) => ({ value: v })); },
            afterFit: (ax: any) => { ax.width = YW; },
            grid: { drawOnChartArea: false, drawTicks: true, tickLength: 4, color: '#6e6e6e', lineWidth: 1.5 },
            border: { display: false },
            ticks: { color: '#222', font: tickFont, padding: 2, autoSkip: false, callback: (v: any) => Number(v).toFixed(p.yDec) },
          },
        },
      } as any,
      plugins: [makeDeco(p)],
    });
    return () => chart.destroy();
  }, []);
  return (
    <canvas
      ref={ref}
      width={w}
      height={h}
      style={{ position: 'absolute', left: p.left - YW, top: p.top - PT, width: w, height: h }}
    />
  );
}

export default function App() {
  return (
    <div style={{ position: 'fixed', left: 0, top: 0, width: 1284, height: 565, overflow: 'hidden', background: '#ffffff' }}>
      {panels.map((p) => (
        <PanelChart key={p.id} p={p} />
      ))}
      <div
        style={{
          position: 'absolute', left: 23, top: 292,
          transform: 'translate(-50%, -50%) rotate(-90deg) scaleX(1.2)',
          font: `bold 32px ${FONT}`, whiteSpace: 'nowrap', color: '#111', lineHeight: 1,
        }}
      >
        DOS(state/eV/f.u.)
      </div>
      {energyLabelX.map((cx, i) => (
        <div
          key={i}
          style={{
            position: 'absolute', left: cx, top: 548,
            transform: 'translate(-50%, -50%)',
            font: `bold 26px ${FONT}`, whiteSpace: 'nowrap', color: '#111', lineHeight: 1,
          }}
        >
          Energy(eV)
        </div>
      ))}
    </div>
  );
}
